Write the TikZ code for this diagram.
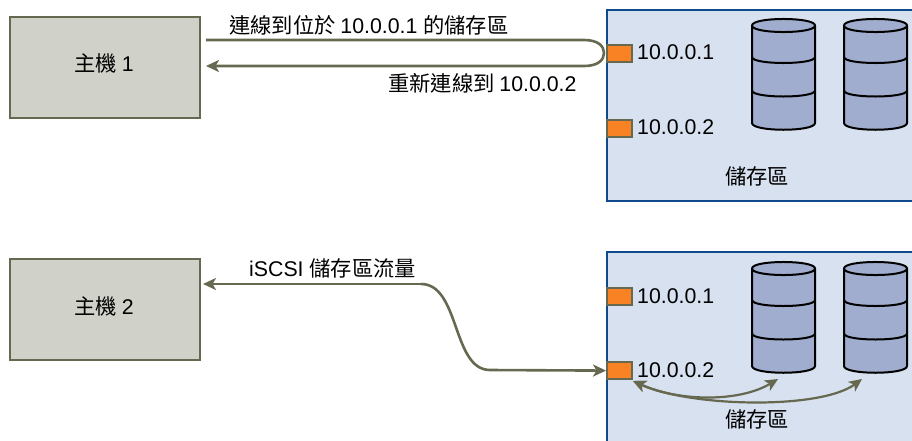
\documentclass[tikz,border=0pt]{standalone}
\usepackage{fontspec}
\usetikzlibrary{arrows.meta}
\setmainfont{Liberation Sans}
\newfontfamily\cjk{Noto Sans CJK TC}
\definecolor{lineol}{HTML}{66684F}
\definecolor{hostfill}{HTML}{D0D1C8}
\definecolor{storefill}{HTML}{D8E1F0}
\definecolor{storeline}{HTML}{0E4A8C}
\definecolor{portfill}{HTML}{F98324}
\definecolor{cylfill}{HTML}{A1ADCE}
\tikzset{
 x=1pt,y=-1pt,
 hostbox/.style={draw=lineol,fill=hostfill,line width=2.4pt,minimum width=190pt,minimum height=101pt,inner sep=0pt,anchor=north west},
 storebox/.style={draw=storeline,fill=storefill,line width=2.4pt,anchor=north west,inner sep=0pt},
 portbox/.style={draw=lineol,fill=portfill,line width=2.2pt,minimum width=25pt,minimum height=17pt,inner sep=0pt,anchor=north west},
 lbl/.style={inner sep=0pt,font=\fontsize{21.3}{23}\selectfont,text=black},
 flow/.style={draw=lineol,line width=2.6pt},
 tip/.style={-{Stealth[length=13pt,width=12pt,inset=3.5pt]}},
 tipb/.style={{Stealth[length=13pt,width=12pt,inset=3.5pt]}-{Stealth[length=13pt,width=12pt,inset=3.5pt]}},
}
\newcommand{\dbcyl}[2]{%
 \begin{scope}[shift={(#1,#2)}]
  \draw[fill=cylfill,line width=2pt,line join=round] (0,6.5) .. controls (0,-2.2) and (63,-2.2) .. (63,6.5) -- (63,104) .. controls (63,113) and (0,113) .. (0,104) -- cycle;
  \draw[line width=2pt] (0,6.5) .. controls (0,15.2) and (63,15.2) .. (63,6.5);
  \draw[line width=2pt] (0,38) .. controls (0,46) and (63,46) .. (63,38);
  \draw[line width=2pt] (0,71.5) .. controls (0,79.5) and (63,79.5) .. (63,71.5);
 \end{scope}}
\begin{document}
\begin{tikzpicture}
\useasboundingbox (0,0) rectangle (912,440);
\clip (0,0) rectangle (912,440);
% top storage
\node[storebox,minimum width=320pt,minimum height=191pt] (store1) at (606,9) {};
\dbcyl{752}{19}
\dbcyl{844}{19}
\node[portbox] (p11) at (606,44) {};
\node[portbox] (p12) at (606,119) {};
\node[lbl,anchor=west] (t11) at (637,52.5) {10.0.0.1};
\node[lbl,anchor=west] (t12) at (637,127.5) {10.0.0.2};
\node[lbl] (s1) at (757,176) {\cjk 儲存區};
% host 1
\node[hostbox] (h1) at (9,16) {};
\node[lbl] (h1t) at (104,63) {\cjk 主機 \rmfamily 1};
\coordinate (a1) at (206,40);
\coordinate (a2) at (206,66);
\draw[flow,tip] (a1) -- (584,40) .. controls (598,40) and (604,46) .. (604,53) .. controls (604,60) and (598,66) .. (584,66) -- (a2);
\node[lbl,anchor=west] (l1) at (229,25.5) {\cjk 連線到位於 \rmfamily 10.0.0.1 \cjk 的儲存區};
\node[lbl,anchor=west] (l2) at (388,83) {\cjk 重新連線到 \rmfamily 10.0.0.2};
% bottom storage
\node[storebox,minimum width=320pt,minimum height=200pt] (store2) at (606,251) {};
\dbcyl{752}{262}
\dbcyl{844}{262}
\node[portbox] (p21) at (606,287) {};
\node[portbox] (p22) at (606,361) {};
\node[lbl,anchor=west] (t21) at (637,296) {10.0.0.1};
\node[lbl,anchor=west] (t22) at (637,370) {10.0.0.2};
\node[lbl] (s2) at (757,419) {\cjk 儲存區};
% host 2
\node[hostbox] (h2) at (9,258) {};
\node[lbl] (h2t) at (104,306) {\cjk 主機 \rmfamily 2};
\coordinate (b1) at (203,284);
\draw[flow,tip] (421,284) -- (b1);
\draw[flow,tip] (421,284) .. controls (460,284) and (452,370) .. (490,370) -- (p22.west);
\node[lbl,anchor=west] (l3) at (249,268) {iSCSI \cjk 儲存區流量};
\coordinate (c0) at (633,381);
\coordinate (c1) at (778,379);
\coordinate (c2) at (862,379);
\draw[flow,tipb,line width=2.2pt] (c0) .. controls (680,402) and (740,402) .. (c1);
\draw[flow,tipb,line width=2.2pt] (c0) .. controls (690,407) and (820,410) .. (c2);
\end{tikzpicture}
\end{document}
